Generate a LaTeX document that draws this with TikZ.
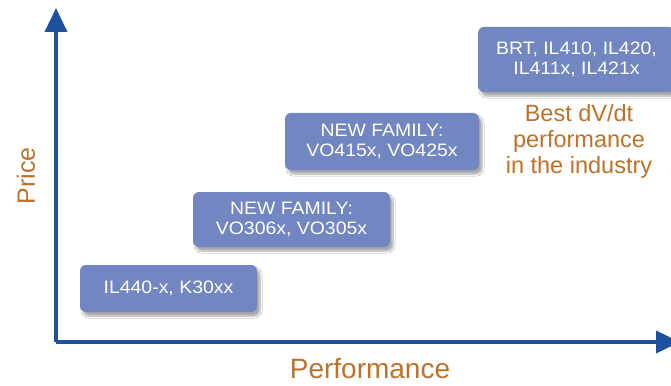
\documentclass[tikz,border=0pt]{standalone}
\usepackage{fontspec}
\setmainfont{Liberation Sans}
\newfontfamily\boxfont[FakeStretch=1.08]{Liberation Sans}
\usetikzlibrary{arrows.meta,shadows.blur}
\definecolor{boxblue}{RGB}{114,134,194}
\definecolor{axisblue}{RGB}{30,80,155}
\definecolor{labelbrown}{RGB}{185,115,45}
\begin{document}
\begin{tikzpicture}[x=1pt,y=-1pt,
  prodbox/.style={fill=boxblue, rounded corners=6pt, text=white, align=center,
    inner sep=0pt, font=\boxfont\fontsize{18}{20}\selectfont,
    blur shadow={shadow xshift=3pt, shadow yshift=-4pt, shadow blur steps=6, shadow opacity=35}},
  axisline/.style={draw=axisblue, line width=3.5pt, -{Triangle[length=24pt,width=22pt]}},
  axislabel/.style={text=labelbrown, inner sep=0pt}]
\fill[white] (0,0) rectangle (671,385);
\useasboundingbox (0,0) rectangle (671,385);
% axes
\coordinate (origin) at (56,342);
\coordinate (ytip) at (56,8);
\coordinate (xtip) at (680,342);
\draw[axisline] (origin) -- (ytip);
\draw[axisline] (origin) -- (xtip);
\node[axislabel, font=\fontsize{28}{30}\selectfont] (perf) at (370,369) {Performance};
\node[axislabel, font=\fontsize{25}{27}\selectfont, rotate=90] (price) at (26,176) {Price};
% product boxes
\node[prodbox, minimum width=177pt, minimum height=47pt] (b1) at (168.5,288.5) {IL440-x, K30xx};
\node[prodbox, minimum width=197pt, minimum height=55pt] (b2) at (291.5,219.5) {NEW FAMILY:\\VO306x, VO305x};
\node[prodbox, minimum width=194pt, minimum height=57pt] (b3) at (382,141.5) {NEW FAMILY:\\VO415x, VO425x};
\node[prodbox, minimum width=197pt, minimum height=65pt] (b4) at (576.5,59.5) {BRT, IL410, IL420,\\IL411x, IL421x};
\node[axislabel, align=center, font=\fontsize{23.5}{26}\selectfont] (best) at (579,141) {Best dV/dt\\performance\\in the industry};
\end{tikzpicture}
\end{document}
